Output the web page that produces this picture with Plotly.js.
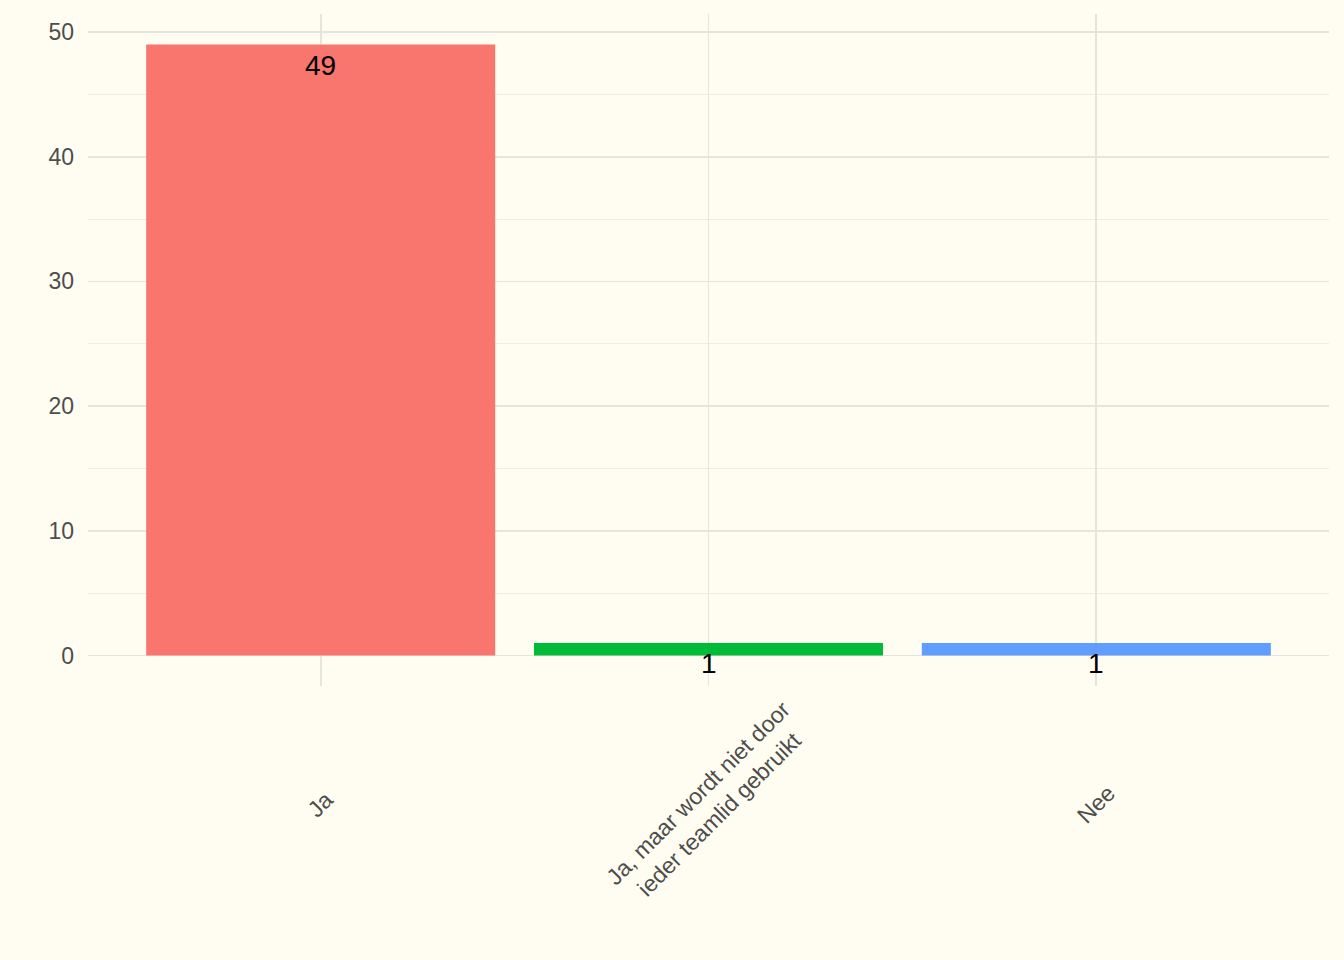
<!DOCTYPE html>
<html>
<head>
<meta charset="utf-8">
<script src="https://cdn.plot.ly/plotly-3.0.1.min.js"></script>
<style>
  html, body { margin: 0; padding: 0; background: #FFFDF1; }
  #chart { width: 1344px; height: 960px; }
</style>
</head>
<body>
<div id="chart"></div>
<script>
// Answers and counts
const categories = ["Ja", "Ja, maar wordt niet door<br>ieder teamlid gebruikt", "Nee"];
const counts = [49, 1, 1];
const barColors = ["#F8766D", "#00BA38", "#619CFF"];
const yTicks = [0, 10, 20, 30, 40, 50];

const bg = "#FFFDF1";
const textFont = "Liberation Sans, Arial, sans-serif";

const trace = {
  type: "bar",
  x: categories,
  y: counts,
  width: 0.9,
  marker: { color: barColors, line: { width: 0 } },
  hoverinfo: "x+y",
  showlegend: false
};

// Value labels just below each bar top
const valueLabels = categories.map((c, i) => ({
  x: c, y: counts[i], xref: "x", yref: "y",
  text: String(counts[i]), showarrow: false,
  yanchor: "middle", xanchor: "center", yshift: -21,
  font: { family: textFont, size: 28, color: "#000000" }
}));

// Rotated category labels, centred under each bar
const catLabels = categories.map((c) => ({
  x: c, y: -0.176, xref: "x", yref: "paper",
  text: c, showarrow: false, textangle: -45,
  xanchor: "center", yanchor: "middle", align: "center",
  font: { family: textFont, size: 23, color: "#4D4D4D" }
}));

const layout = {
  width: 1344, height: 960,
  paper_bgcolor: bg, plot_bgcolor: bg,
  margin: { l: 88, r: 15, t: 14, b: 274, pad: 0 },
  bargap: 0.1,
  xaxis: {
    type: "category",
    range: [-0.6, 2.6],
    showgrid: true, gridcolor: "#E7E5DB", gridwidth: 1.8,
    showticklabels: false, ticks: "",
    zeroline: false, showline: false, fixedrange: true
  },
  yaxis: {
    range: [-2.45, 51.45],
    tickvals: yTicks, ticktext: yTicks.map(String),
    showgrid: true, gridcolor: "#E7E5DB", gridwidth: 1.8,
    minor: { tickvals: [5, 15, 25, 35, 45], showgrid: true, gridcolor: "#EFEDE3", gridwidth: 1, ticks: "" },
    ticks: "", ticklabelstandoff: 13,
    tickfont: { family: textFont, size: 23, color: "#4D4D4D" },
    zeroline: false, showline: false, fixedrange: true
  },
  annotations: valueLabels.concat(catLabels)
};

Plotly.newPlot("chart", [trace], layout, { displayModeBar: false, staticPlot: true });
</script>
</body>
</html>
